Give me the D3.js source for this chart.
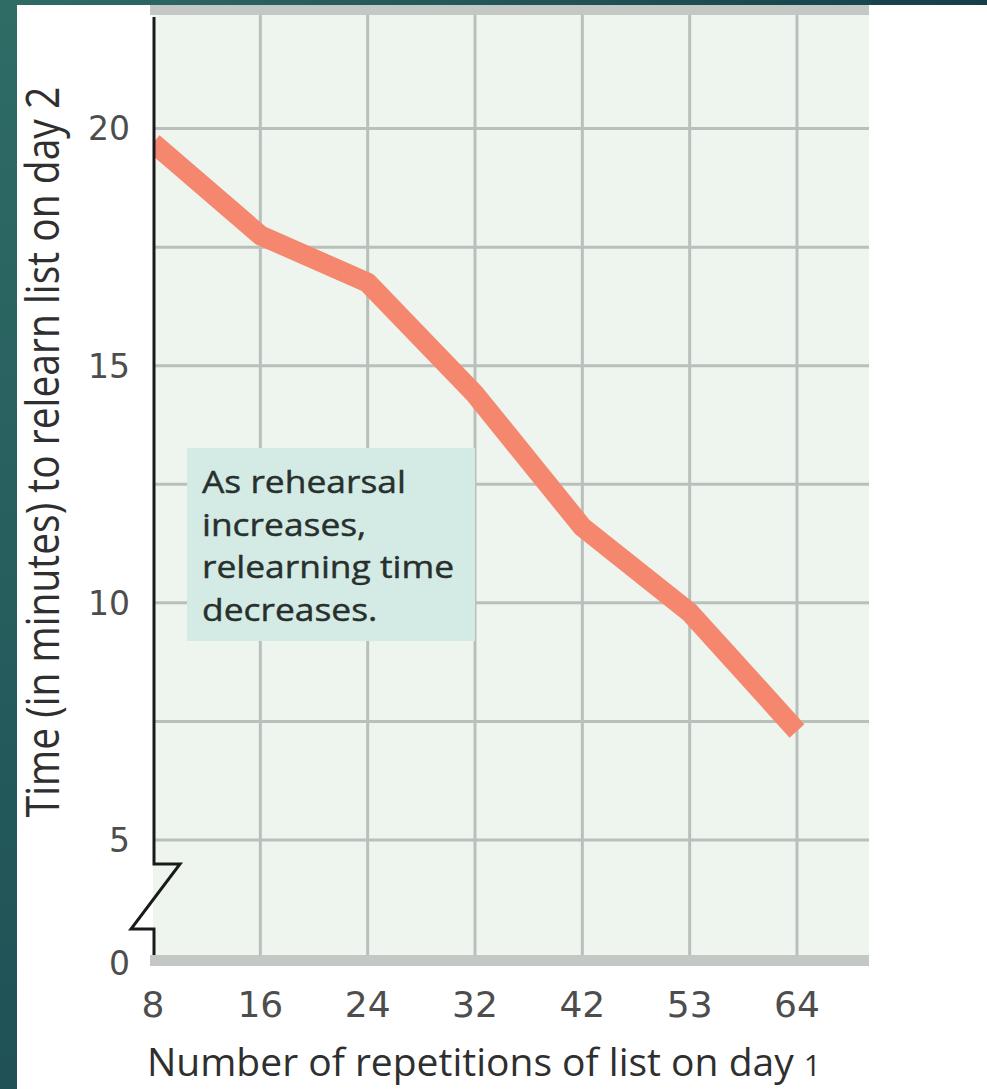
<!DOCTYPE html>
<html>
<head>
<meta charset="utf-8">
<script src="https://cdn.jsdelivr.net/npm/d3@7"></script>
<style>
  html, body { margin: 0; padding: 0; background: #ffffff; }
  svg { display: block; }
</style>
</head>
<body>
<svg id="chart" width="987" height="1089"></svg>
<script>
// Repetitions on day 1 and minutes needed to relearn the list on day 2
const repetitions = ["8", "16", "24", "32", "42", "53", "64"];
const relearnMinutes = [19.7, 17.75, 16.75, 14.4, 11.6, 9.8, 7.3];
const yTickValues = [0, 5, 10, 15, 20];
const yGridValues = [5, 7.5, 10, 12.5, 15, 17.5, 20];
const noteLines = ["As rehearsal", "increases,", "relearning time", "decreases."];
const xTitle = "Number of repetitions of list on day ";
const xTitleDay = "1";
const yTitle = "Time (in minutes) to relearn list on day 2";

const svg = d3.select("#chart");
const W = 987, H = 1089;
const plot = { left: 153, right: 869, top: 10, bottom: 960 };

// Side and top slide trim
const defs = svg.append("defs");
const gradV = defs.append("linearGradient").attr("id", "trimV")
  .attr("x1", 0).attr("y1", 0).attr("x2", 0).attr("y2", 1);
gradV.append("stop").attr("offset", "0%").attr("stop-color", "#2f6c66");
gradV.append("stop").attr("offset", "100%").attr("stop-color", "#1f5156");
const gradH = defs.append("linearGradient").attr("id", "trimH")
  .attr("x1", 0).attr("y1", 0).attr("x2", 1).attr("y2", 0);
gradH.append("stop").attr("offset", "0%").attr("stop-color", "#2f6c66");
gradH.append("stop").attr("offset", "100%").attr("stop-color", "#163f4a");
svg.append("rect").attr("x", 0).attr("y", 0).attr("width", 17).attr("height", H).attr("fill", "url(#trimV)");
svg.append("rect").attr("x", 0).attr("y", 0).attr("width", W).attr("height", 5).attr("fill", "url(#trimH)");

// Scales: broken y axis (0 sits just below 5)
const x = d3.scalePoint().domain(repetitions).range([153, 797]);
const y = d3.scaleLinear().domain([0, 5, 22.5]).range([plot.bottom, 840, plot.top]);

// Plot background
svg.append("rect")
  .attr("x", plot.left).attr("y", plot.top)
  .attr("width", plot.right - plot.left).attr("height", plot.bottom - plot.top)
  .attr("fill", "#eef5ef");

const gridColor = "#b9c0bc";

// Horizontal grid
svg.append("g").selectAll("line").data(yGridValues).join("line")
  .attr("x1", plot.left).attr("x2", plot.right)
  .attr("y1", d => y(d)).attr("y2", d => y(d))
  .attr("stroke", gridColor).attr("stroke-width", 3);

// Vertical grid
svg.append("g").selectAll("line").data(repetitions.slice(1)).join("line")
  .attr("x1", d => x(d)).attr("x2", d => x(d))
  .attr("y1", plot.top).attr("y2", plot.bottom)
  .attr("stroke", gridColor).attr("stroke-width", 3);

// Top and bottom frame bars
svg.append("rect").attr("x", 150).attr("y", 5)
  .attr("width", plot.right - 150).attr("height", 10).attr("fill", "#c3c8c5");
svg.append("rect").attr("x", 150).attr("y", 955)
  .attr("width", plot.right - 150).attr("height", 11).attr("fill", "#c3c8c5");

// Annotation box
const note = svg.append("g");
note.append("rect").attr("x", 187).attr("y", 448).attr("width", 288).attr("height", 193)
  .attr("fill", "#d4ebe5");
note.selectAll("text").data(noteLines).join("text")
  .attr("transform", (d, i) => `translate(202,${493 + i * 42.5}) scale(1.22,1.05)`)
  .attr("font-family", "'Open Sans', sans-serif").attr("font-size", 29)
  .attr("fill", "#28302d")
  .attr("stroke", "#28302d").attr("stroke-width", 0.4)
  .text(d => d);

// Data line, clipped to the plot area
defs.append("clipPath").attr("id", "plotClip").append("rect")
  .attr("x", plot.left).attr("y", plot.top)
  .attr("width", plot.right - plot.left).attr("height", plot.bottom - plot.top);
const line = d3.line()
  .x((d, i) => x(repetitions[i]))
  .y(d => y(d));
svg.append("path")
  .datum(relearnMinutes)
  .attr("clip-path", "url(#plotClip)")
  .attr("d", line)
  .attr("fill", "none")
  .attr("stroke", "#f5876f")
  .attr("stroke-width", 20)
  .attr("stroke-linejoin", "round")
  .attr("stroke-linecap", "butt");

// Y axis with break mark
const ax = plot.left + 1;
const axisPath = d3.path();
axisPath.moveTo(ax, 17);
axisPath.lineTo(ax, 864);
axisPath.lineTo(180, 864);
axisPath.lineTo(131, 929);
axisPath.lineTo(ax, 929);
axisPath.lineTo(ax, 955);
svg.append("path").attr("d", axisPath.toString())
  .attr("fill", "none").attr("stroke", "#1a1a1a").attr("stroke-width", 3)
  .attr("stroke-linejoin", "miter");

// Y tick labels
svg.append("g").selectAll("text").data(yTickValues).join("text")
  .attr("x", 130).attr("y", d => y(d) + (d === 0 ? 3 : 0))
  .attr("dy", "0.36em")
  .attr("text-anchor", "end")
  .attr("font-family", "'DejaVu Sans', sans-serif").attr("font-size", 33)
  .attr("fill", "#4d4d4d")
  .text(d => d);

// X tick labels
svg.append("g").selectAll("text").data(repetitions).join("text")
  .attr("x", d => x(d)).attr("y", 1017)
  .attr("text-anchor", "middle")
  .attr("font-family", "'DejaVu Sans', sans-serif").attr("font-size", 36)
  .attr("fill", "#4d4d4d")
  .text(d => d);

// X axis title
const xt = svg.append("text")
  .attr("x", 484).attr("y", 1076)
  .attr("text-anchor", "middle")
  .attr("font-family", "'Open Sans', sans-serif").attr("font-size", 39)
  .attr("fill", "#2f2f2f");
xt.append("tspan").text(xTitle);
xt.append("tspan").attr("font-size", 30).text(xTitleDay);

// Y axis title
svg.append("text")
  .attr("transform", "translate(59,452) rotate(-90) scale(1,1.15)")
  .attr("text-anchor", "middle")
  .attr("font-family", "'Open Sans', sans-serif").attr("font-size", 39)
  .attr("fill", "#2f2f2f")
  .text(yTitle);
</script>
</body>
</html>
